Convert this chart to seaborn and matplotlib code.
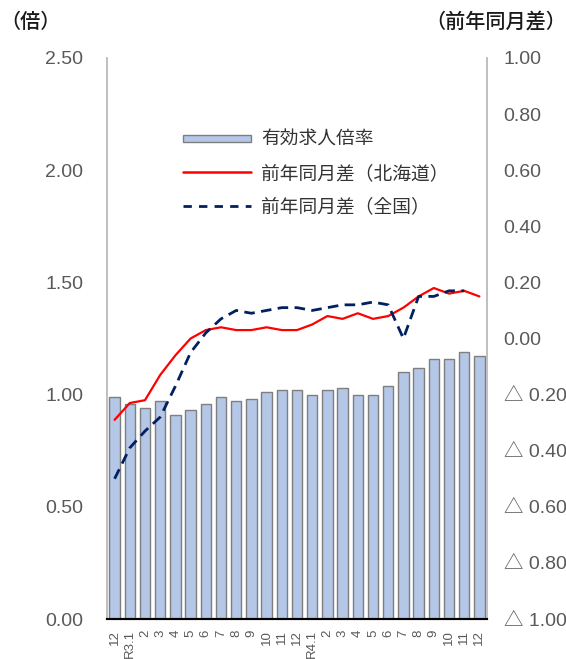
import numpy as np
import matplotlib
matplotlib.use("Agg")
import matplotlib.pyplot as plt
import seaborn as sns
from matplotlib.patches import Rectangle, Patch
from matplotlib.lines import Line2D
from matplotlib.legend_handler import HandlerPatch

# ---- data ----
month_labels = ["12", "R3.1", "2", "3", "4", "5", "6", "7", "8", "9", "10", "11",
                "12", "R4.1", "2", "3", "4", "5", "6", "7", "8", "9", "10", "11", "12"]
job_ratio = [0.99, 0.96, 0.94, 0.97, 0.91, 0.93, 0.96, 0.99, 0.97, 0.98, 1.01, 1.02,
             1.02, 1.00, 1.02, 1.03, 1.00, 1.00, 1.04, 1.10, 1.12, 1.16, 1.16, 1.19, 1.17]
diff_hokkaido = [-0.29, -0.23, -0.22, -0.13, -0.06, 0.00, 0.03, 0.04, 0.03, 0.03, 0.04, 0.03,
                 0.03, 0.05, 0.08, 0.07, 0.09, 0.07, 0.08, 0.11, 0.15, 0.18, 0.16, 0.17, 0.15]
diff_national = [-0.50, -0.39, -0.33, -0.28, -0.17, -0.05, 0.02, 0.07, 0.10, 0.09, 0.10, 0.11,
                 0.11, 0.10, 0.11, 0.12, 0.12, 0.13, 0.12, 0.00, 0.15, 0.15, 0.17, 0.17, np.nan]
left_ticks = [0.0, 0.5, 1.0, 1.5, 2.0, 2.5]
right_ticks = [-1.0, -0.8, -0.6, -0.4, -0.2, 0.0, 0.2, 0.4, 0.6, 0.8, 1.0]
legend_labels = ["有効求人倍率", "前年同月差（北海道）", "前年同月差（全国）"]

sns.set_theme(style="white")
plt.rcParams["font.family"] = ["Liberation Sans", "Noto Sans CJK JP", "DejaVu Sans"]
CJK = ["Noto Sans CJK JP", "DejaVu Sans"]

BAR_FACE = "#B4C7E7"
BAR_EDGE = "#7F7F7F"
RED = "#FF0000"
NAVY = "#002060"
TICK_C = "#595959"

fig = plt.figure(figsize=(5.66, 6.59), dpi=100)
ax = fig.add_axes([107 / 566, 40 / 659, 380 / 566, 561 / 659])
pos = np.arange(len(month_labels))

sns.barplot(x=pos, y=job_ratio, ax=ax, color=BAR_FACE, edgecolor=BAR_EDGE,
            linewidth=1.0, width=0.68, saturation=1, native_scale=True)
ax.set_xlim(-0.5, len(month_labels) - 0.5)
ax.set_ylim(0, 2.5)
ax.set_yticks(left_ticks)
ax.set_yticklabels([f"{v:.2f}" for v in left_ticks])
ax.set_xticks(pos)
ax.set_xticklabels(month_labels, rotation=90, fontsize=9.5, color=TICK_C)
ax.tick_params(axis="y", length=0, pad=17, labelsize=14, labelcolor=TICK_C)
ax.tick_params(axis="x", length=0, pad=8)
ax.set_xlabel("")
ax.set_ylabel("")

ax2 = ax.twinx()
sns.lineplot(x=pos, y=diff_hokkaido, ax=ax2, color=RED, linewidth=1.6)
sns.lineplot(x=pos, y=diff_national, ax=ax2, color=NAVY, linewidth=2.0)
ax2.lines[-1].set_dashes((3.8, 2.3))
ax2.set_ylim(-1.0, 1.0)
ax2.set_yticks(right_ticks)
ax2.set_yticklabels([f"{v:.2f}" if v >= -1e-9 else f"△ {abs(v):.2f}" for v in right_ticks],
                    family=["Liberation Sans", "Noto Sans CJK JP"])
ax2.tick_params(axis="y", length=0, pad=12, labelsize=14, labelcolor=TICK_C)
ax2.set_xlim(-0.5, len(month_labels) - 0.5)

for a in (ax, ax2):
    a.spines["top"].set_visible(False)
    a.spines["left"].set_color("#BFBFBF")
    a.spines["right"].set_color("#BFBFBF")
    a.spines["left"].set_linewidth(1.2)
    a.spines["right"].set_linewidth(1.2)
    a.spines["bottom"].set_color("black")
    a.spines["bottom"].set_linewidth(1.5)
    a.grid(False)

# axis unit labels
fig.text(0.0, 1 - 22 / 659, "（倍）", family=CJK, fontsize=14.5, color="#1a1a1a",
         ha="left", va="center", fontweight="medium")
fig.text(1.0, 1 - 22 / 659, "（前年同月差）", family=CJK, fontsize=14.5, color="#1a1a1a",
         ha="right", va="center", fontweight="medium")

# legend
def thin_patch(legend, orig_handle, xdescent, ydescent, width, height, fontsize):
    return Rectangle((-xdescent, -ydescent + height * 0.2), width, height * 0.6)

handles = [Patch(facecolor=BAR_FACE, edgecolor=BAR_EDGE, linewidth=1.0),
           Line2D([], [], color=RED, linewidth=1.8),
           Line2D([], [], color=NAVY, linewidth=2.0, dashes=(3.0, 2.6))]
leg = fig.legend(handles, legend_labels, loc="upper left",
                 bbox_to_anchor=(183 / 566, 1 - 129 / 659), frameon=False,
                 prop={"family": CJK, "size": 13.5}, handlelength=3.6,
                 handletextpad=0.55, labelspacing=0.68, borderpad=0, borderaxespad=0,
                 handler_map={Patch: HandlerPatch(patch_func=thin_patch)})
for t in leg.get_texts():
    t.set_color("#333333")

fig.savefig("out.png", dpi=100)
